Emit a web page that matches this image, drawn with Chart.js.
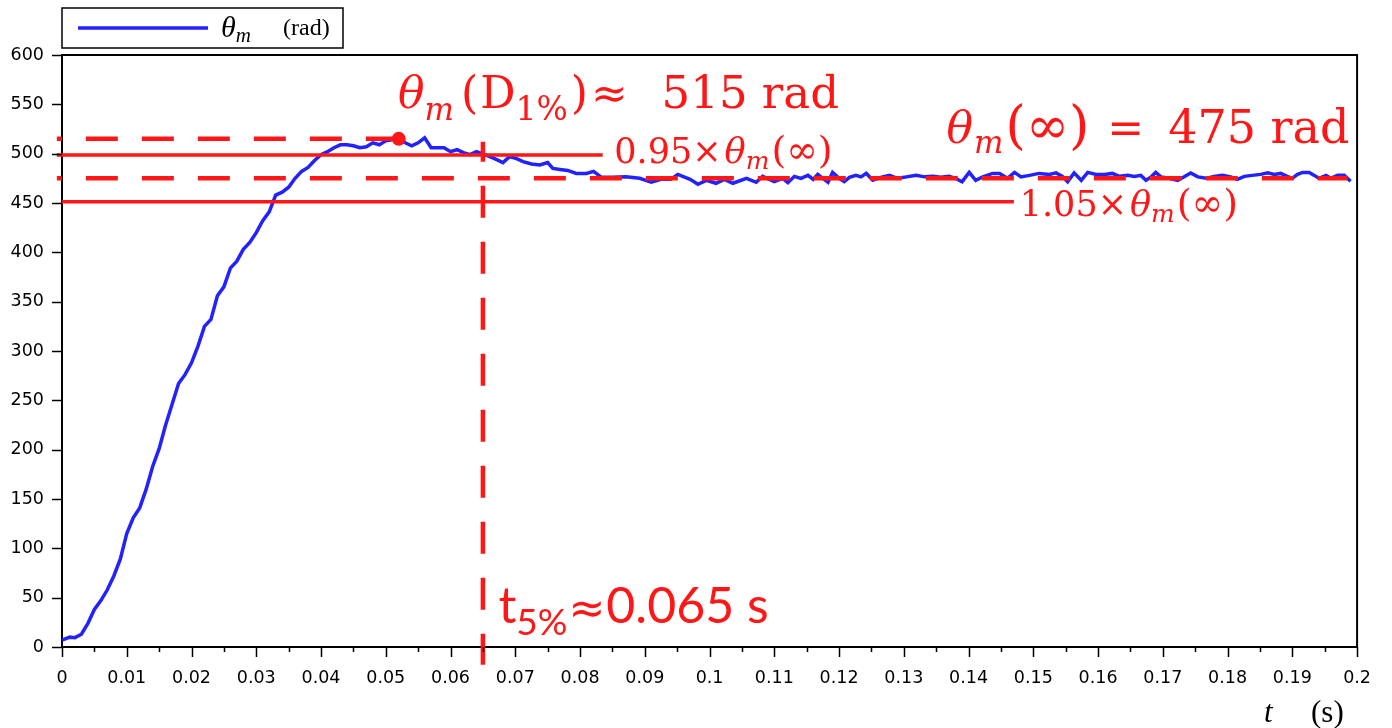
<!DOCTYPE html>
<html>
<head>
<meta charset="utf-8">
<script src="https://cdn.jsdelivr.net/npm/chart.js@4"></script>
<style>
  html, body { margin: 0; padding: 0; background: #fff; }
</style>
</head>
<body>
<canvas id="myChart" width="1392" height="728"></canvas>
<script>
// measured response theta_m(t)
const tValues = [
  0, 0.0012, 0.002, 0.003, 0.004, 0.005, 0.006, 0.007, 0.008, 0.009,
  0.010, 0.011, 0.012, 0.013, 0.014, 0.015, 0.016, 0.017, 0.018, 0.019,
  0.020, 0.021, 0.022, 0.023, 0.024, 0.025, 0.026, 0.027, 0.028, 0.029,
  0.030, 0.031, 0.032, 0.033, 0.034, 0.035, 0.036, 0.037, 0.038, 0.039,
  0.040, 0.041, 0.042, 0.043, 0.044, 0.045, 0.046, 0.047, 0.048, 0.049,
  0.050, 0.051, 0.052, 0.053, 0.054, 0.055, 0.056, 0.057, 0.058, 0.059,
  0.060, 0.061, 0.062, 0.063, 0.064,
  0.0653, 0.0668, 0.0681, 0.0691, 0.0702, 0.0712, 0.0725, 0.0738, 0.075, 0.0758,
  0.0769, 0.0781, 0.0794, 0.081, 0.0821, 0.0833, 0.085, 0.0871, 0.0892, 0.091,
  0.0925, 0.094, 0.0951, 0.097, 0.0982, 0.0995, 0.101, 0.1023, 0.1036, 0.1057,
  0.1072, 0.1082, 0.110, 0.1113, 0.1121, 0.1131, 0.1141, 0.1152, 0.116, 0.1167,
  0.1175, 0.1183, 0.119, 0.12, 0.1208, 0.1216, 0.1226, 0.1234, 0.1242, 0.1252,
  0.1267, 0.1278, 0.129, 0.1304, 0.1319, 0.1332, 0.1345, 0.1357, 0.137, 0.138,
  0.139, 0.1401, 0.1411, 0.1422, 0.1437, 0.1448, 0.146, 0.1471, 0.1481, 0.1494,
  0.1509, 0.1525, 0.1535, 0.1545, 0.1553, 0.1563, 0.1574, 0.1584, 0.1597, 0.161,
  0.1622, 0.1633, 0.1646, 0.1656, 0.1666, 0.1674, 0.1682, 0.1689, 0.1697, 0.171,
  0.1723, 0.1733, 0.1743, 0.1754, 0.1767, 0.1779, 0.1792, 0.1805, 0.1815, 0.1826,
  0.1838, 0.1851, 0.1862, 0.1872, 0.1882, 0.1892, 0.19, 0.1908, 0.1916, 0.1926,
  0.1934, 0.1941, 0.1952, 0.1959, 0.197, 0.198, 0.199
];
const thetaValues = [
  7, 10, 9.5, 13, 24, 38, 47, 58, 72, 89,
  115, 131, 141, 160, 183, 201, 225, 246, 267, 276,
  288, 305, 325, 332, 356, 365, 384, 391, 403, 410,
  420, 432, 441, 458, 461, 466, 475, 482, 486, 493,
  499, 502, 506, 509, 509, 508, 506, 507, 511, 509,
  513, 514, 515, 511, 508, 511, 516, 506, 506, 506,
  502, 504, 501, 499, 502,
  499, 495, 491, 497, 495, 492, 489.5, 488.5, 491, 485,
  484, 483, 480, 480, 482, 476, 476, 476.5, 475, 471,
  474, 474, 479, 474, 469, 473, 470, 474, 470, 475,
  471, 477, 471.6, 475, 470.6, 477, 475, 478, 474, 479,
  475, 471, 481, 475, 471.6, 476, 478, 476.5, 480, 473,
  476.5, 478, 475, 476.5, 478, 476.5, 477, 476, 477, 475,
  471.6, 481, 473, 476.5, 480, 480, 475, 481, 476.5, 478,
  480, 479, 480.5, 477, 471.6, 480.5, 473, 481, 479, 479,
  480, 477, 478, 477, 478, 473, 476.5, 481, 476.5, 475,
  473, 476.5, 480.5, 476.5, 475, 477, 478, 476.5, 474, 477,
  478, 479, 480.5, 479, 480, 477, 475, 479, 481, 481,
  478, 475, 478, 475, 478, 478, 472
];

// reference levels
const finalValue = 475;       // theta_m(inf)
const peakValue = 515;        // theta_m(D1%)
const peakTime = 0.052;
const t5Time = 0.065;
const bandHigh = 498.75;      // 1.05 x 475
const bandLow = 451.25;       // 0.95 x 475

const xTickLabels = ["0","0.01","0.02","0.03","0.04","0.05","0.06","0.07","0.08","0.09","0.1",
  "0.11","0.12","0.13","0.14","0.15","0.16","0.17","0.18","0.19","0.2"];
const yTickLabels = ["0","50","100","150","200","250","300","350","400","450","500","550","600"];

const RED = "rgb(255,22,22)";
const BLUE = "rgb(34,34,255)";

const curve = tValues.map((t, i) => ({x: t, y: thetaValues[i]}));

function seg(x0, y0, x1, y1) { return [{x: x0, y: y0}, {x: x1, y: y1}]; }

// draw a run of text pieces one after another
function rich(ctx, x, y, parts) {
  for (const p of parts) {
    ctx.font = p.f;
    x += (p.dx || 0);
    ctx.fillText(p.s, x, y + (p.dy || 0));
    x += ctx.measureText(p.s).width;
  }
}

const decorPlugin = {
  id: "decor",
  afterDraw(chart) {
    const ctx = chart.ctx;
    const xs = chart.scales.x, ys = chart.scales.y;
    const a = chart.chartArea;
    ctx.save();
    // frame top + right
    ctx.strokeStyle = "#000";
    ctx.lineWidth = 2;
    ctx.beginPath();
    ctx.moveTo(a.left, a.top); ctx.lineTo(a.right, a.top); ctx.lineTo(a.right, a.bottom);
    ctx.stroke();
    // x ticks (major + minor)
    ctx.lineWidth = 1.5;
    ctx.beginPath();
    for (let i = 0; i <= 40; i++) {
      const px = Math.round(xs.getPixelForValue(i * 0.005)) + 0.5;
      ctx.moveTo(px, a.bottom);
      ctx.lineTo(px, a.bottom + (i % 2 === 0 ? 10 : 5));
    }
    // y ticks
    for (let i = 0; i < yTickLabels.length; i++) {
      const py = Math.round(ys.getPixelForValue(i * 50)) + 0.5;
      ctx.moveTo(a.left, py);
      ctx.lineTo(a.left - 10, py);
    }
    ctx.stroke();

    // legend
    ctx.fillStyle = "#fff";
    ctx.fillRect(62, 8, 281, 40);
    ctx.strokeStyle = "#000";
    ctx.lineWidth = 1.5;
    ctx.strokeRect(62, 8, 281, 40);
    ctx.strokeStyle = BLUE;
    ctx.lineWidth = 3.5;
    ctx.beginPath(); ctx.moveTo(78, 28); ctx.lineTo(208, 28); ctx.stroke();
    ctx.fillStyle = "#000";
    ctx.textBaseline = "alphabetic";
    rich(ctx, 221, 37, [
      {s: "θ", f: "italic 30px 'Liberation Serif'"},
      {s: "m", f: "italic 21px 'Liberation Serif'", dy: 5}
    ]);
    ctx.font = "24px 'Liberation Serif'";
    ctx.fillText("(rad)", 283, 35);

    // axis title
    ctx.font = "italic 31px 'Liberation Serif'";
    ctx.fillText("t", 1264, 722);
    ctx.font = "31px 'Liberation Serif'";
    ctx.fillText("(s)", 1311, 722);

    // annotations
    ctx.fillStyle = RED;
    const X = v => xs.getPixelForValue(v), Y = v => ys.getPixelForValue(v);
    rich(ctx, X(0.0519), Y(546), [
      {s: "θ", f: "italic 44px 'DejaVu Serif'"},
      {s: "m", f: "italic 31px 'DejaVu Serif'", dy: 12},
      {s: "(", f: "44px 'DejaVu Serif'", dx: 7},
      {s: "D", f: "44px 'DejaVu Serif'", dx: 2},
      {s: "1%", f: "33px 'DejaVu Serif'", dy: 12},
      {s: ")", f: "44px 'DejaVu Serif'", dx: 3},
      {s: "≈", f: "44px 'DejaVu Serif'", dx: 3}
    ]);
    ctx.font = "45px 'DejaVu Serif'";
    ctx.fillText("515 rad", X(0.0926), Y(546));

    rich(ctx, X(0.1366), Y(511), [
      {s: "θ", f: "italic 44px 'DejaVu Serif'"},
      {s: "m", f: "italic 31px 'DejaVu Serif'", dy: 10, dx: 1},
      {s: "(∞)", f: "52px 'DejaVu Serif'", dx: 2},
      {s: " = ", f: "44px 'DejaVu Serif'", dx: 4},
      {s: "475 rad", f: "46px 'DejaVu Serif'", dx: 10}
    ]);

    const bandLabel = [
      {s: "0.95×", f: "35px 'DejaVu Serif'"},
      {s: "θ", f: "italic 35px 'DejaVu Serif'", dx: 3},
      {s: "m", f: "italic 25px 'DejaVu Serif'", dy: 6},
      {s: "(∞)", f: "38px 'DejaVu Serif'", dx: 2}
    ];
    rich(ctx, X(0.0853), Y(490.5), bandLabel);
    const bandLabel2 = bandLabel.slice();
    bandLabel2[0] = {s: "1.05×", f: "35px 'DejaVu Serif'"};
    rich(ctx, X(0.1479), Y(437), bandLabel2);

    rich(ctx, X(0.0674), Y(24.3), [
      {s: "t", f: "50px Lato"},
      {s: "5%", f: "37px Lato", dy: 12},
      {s: "≈", f: "44px 'DejaVu Sans'", dx: 1},
      {s: "0.065 s", f: "50px Lato", dx: 1}
    ]);
    ctx.restore();
  }
};

new Chart("myChart", {
  type: "line",
  data: {
    datasets: [
      { label: "peak", data: [{x: peakTime, y: peakValue}], showLine: false,
        pointRadius: 7, pointBackgroundColor: RED, pointBorderWidth: 0, order: 0 },
      { label: "overshoot", data: seg(-0.0008, peakValue, peakTime, peakValue),
        borderColor: RED, borderWidth: 4.5, borderDash: [32, 24], borderDashOffset: 27,
        pointRadius: 0, clip: false, order: 1 },
      { label: "final", data: seg(-0.0008, finalValue, 0.1985, finalValue),
        borderColor: RED, borderWidth: 4.5, borderDash: [32, 24], borderDashOffset: 27,
        pointRadius: 0, clip: false, order: 1 },
      { label: "high", data: seg(-0.0008, bandHigh, 0.0835, bandHigh),
        borderColor: RED, borderWidth: 3.5, pointRadius: 0, clip: false, order: 1 },
      { label: "low", data: seg(0, bandLow, 0.147, bandLow),
        borderColor: RED, borderWidth: 3.5, pointRadius: 0, clip: false, order: 1 },
      { label: "t5", data: seg(t5Time, 512, t5Time, -18),
        borderColor: RED, borderWidth: 4.5, borderDash: [32, 24], borderDashOffset: 12,
        pointRadius: 0, clip: false, order: 1 },
      { label: "θm (rad)", data: curve, borderColor: BLUE, borderWidth: 3.5,
        pointRadius: 0, tension: 0, order: 2 }
    ]
  },
  options: {
    responsive: false,
    animation: false,
    devicePixelRatio: 1,
    layout: { padding: { top: 55, right: 34, left: 0, bottom: 0 } },
    plugins: { legend: { display: false }, tooltip: { enabled: false } },
    scales: {
      x: {
        type: "linear", min: 0, max: 0.2,
        grid: { display: false, drawTicks: false },
        border: { display: true, color: "#000", width: 2 },
        ticks: {
          stepSize: 0.01, autoSkip: false, maxRotation: 0, padding: 21,
          color: "#000", font: { family: "DejaVu Sans", size: 17.5 },
          callback: (v, i) => xTickLabels[i]
        },
        afterFit: s => { s.height = 81; }
      },
      y: {
        min: 0, max: 600,
        grid: { display: false, drawTicks: false },
        border: { display: true, color: "#000", width: 2 },
        ticks: {
          stepSize: 50, padding: 18, color: "#000",
          font: { family: "DejaVu Sans", size: 17.5 },
          callback: (v, i) => yTickLabels[i]
        },
        afterFit: s => { s.width = 62; }
      }
    }
  },
  plugins: [decorPlugin]
});
</script>
</body>
</html>
